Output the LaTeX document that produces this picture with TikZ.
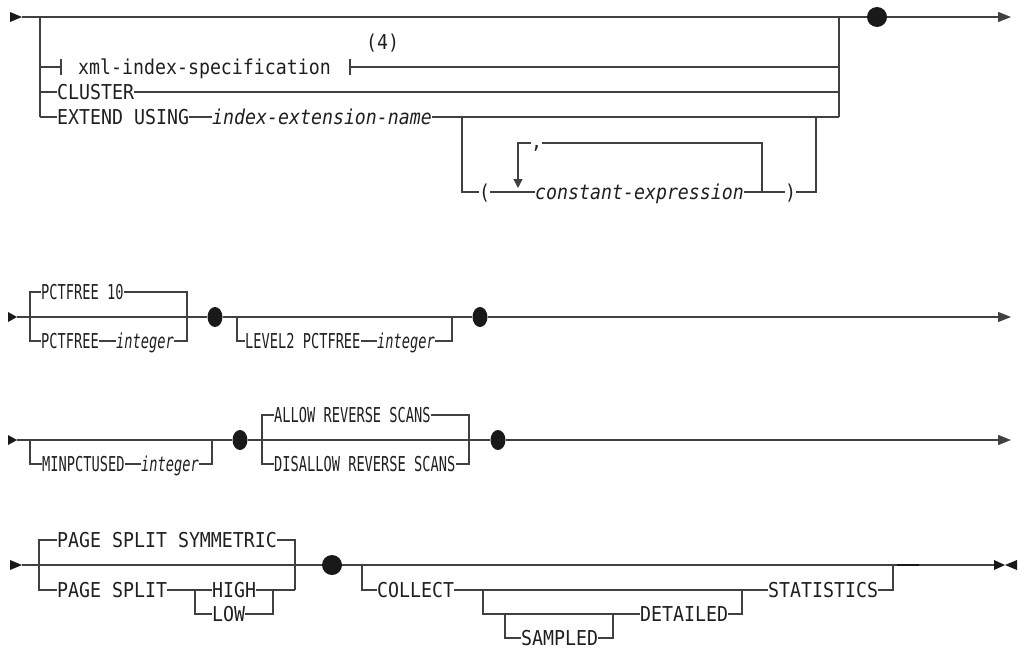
\documentclass[tikz,border=0pt]{standalone}
\usepackage{fontspec}
\usetikzlibrary{arrows.meta,shapes.geometric}
\newfontfamily\dmono[FakeStretch=0.89]{DejaVu Sans Mono}
\newfontfamily\dmonoc[FakeStretch=0.667]{DejaVu Sans Mono}
\newcommand\kwfont{\dmono\fontsize{20.5pt}{21pt}\selectfont}
\newcommand\kwcfont{\dmonoc\fontsize{20.5pt}{21pt}\selectfont}
\definecolor{lc}{gray}{0.25}
\definecolor{tc}{gray}{0.12}
\definecolor{dc}{gray}{0.1}
\tikzset{
  ln/.style={draw=lc,line width=1.3pt,line join=miter},
  kw/.style={font=\kwfont,text=tc,inner sep=0pt,anchor=west,text height=15pt,text depth=0pt},
  kwi/.style={kw,font=\kwfont\itshape},
  kwc/.style={kw,font=\kwcfont},
  kwci/.style={kw,font=\kwcfont\itshape},
  dot/.style={circle,fill=dc,inner sep=0pt,minimum size=20pt},
  dotc/.style={ellipse,fill=dc,inner sep=0pt,minimum width=15pt,minimum height=20pt},
  endarrow/.style={ln,-{Triangle[length=13pt,width=10pt]}},
  looparrow/.style={ln,-{Triangle[length=9pt,width=9pt]}},
  headfill/.style={fill=dc}
}
\begin{document}
\begin{tikzpicture}[x=1pt,y=-1pt]
\useasboundingbox (0,0) rectangle (1020,648);
% ---------------- Row 1 ----------------
\fill[headfill] (10,12) -- (22,17) -- (10,22) -- cycle;
\coordinate (r1s) at (22,17);
\coordinate (a0) at (40,17);
\coordinate (a1) at (40,67);
\coordinate (a2) at (40,92);
\coordinate (a3) at (40,117);
\coordinate (b0) at (839,17);
\coordinate (b1) at (839,67);
\coordinate (b2) at (839,92);
\coordinate (b3) at (839,117);
\node[dot] (d1) at (877,17) {};
\coordinate (r1e) at (1011,17);
\draw[ln] (r1s) -- (d1.west);
\draw[endarrow] (d1.east) -- (r1e);
\draw[ln] (a0) -- (a3);
\draw[ln] (b0) -- (b3);
% xml-index-specification
\coordinate (tl) at (61,67);
\coordinate (tr) at (350,67);
\node[kw] (xml) at (78,67) {xml-index-specification};
\node[kw] (n4) at (366,42) {(4)};
\draw[ln] (a1) -- (tl);
\draw[ln] ([yshift=-8pt]tl) -- ([yshift=8pt]tl);
\draw[ln] ([yshift=-8pt]tr) -- ([yshift=8pt]tr);
\draw[ln] (tr) -- (b1);
% CLUSTER
\node[kw] (clu) at (57,92) {CLUSTER};
\draw[ln] (a2) -- (clu.west);
\draw[ln] (clu.east) -- (b2);
% EXTEND USING
\node[kw] (ext) at (57,117) {EXTEND USING};
\node[kwi] (ien) at (212,117) {index-extension-name};
\draw[ln] (a3) -- (ext.west);
\draw[ln] (ext.east) -- (ien.west);
\draw[ln] (ien.east) -- (b3);
% ( constant-expression )
\coordinate (c1) at (462,117);
\coordinate (c2) at (462,192);
\coordinate (c3) at (816,192);
\coordinate (c4) at (816,117);
\node[kw] (lp) at (479,192) {(};
\node[kwi] (ce) at (535,192) {constant-expression};
\node[kw] (rp) at (785,192) {)};
\draw[ln] (c1) -- (c2) -- (lp.west);
\draw[ln] (lp.east) -- (ce.west);
\draw[ln] (ce.east) -- (rp.west);
\draw[ln] (rp.east) -- (c3) -- (c4);
\coordinate (lpL) at (518,192);
\coordinate (lpTL) at (518,143);
\coordinate (lpTR) at (762,143);
\coordinate (lpR) at (762,192);
\node[kw] (comma) at (531,141) {,};
\draw[ln] (lpR) -- (lpTR) -- ([yshift=-2pt]comma.east);
\draw[looparrow,shorten >=4pt] ([yshift=-2pt]comma.west) -- (lpTL) -- (lpL);
% ---------------- Row 2 ----------------
\fill[headfill] (8,312) -- (17,317) -- (8,322) -- cycle;
\coordinate (r2s) at (17,317);
\coordinate (e1) at (30,292);
\coordinate (e2) at (30,341);
\coordinate (f1) at (187,292);
\coordinate (f2) at (187,341);
\node[kwc] (pf10) at (41,292) {PCTFREE 10};
\node[kwc] (pf) at (41,341) {PCTFREE};
\node[kwci] (int1) at (116,341) {integer};
\draw[ln] (pf10.west) -- (e1) -- (e2) -- (pf.west);
\draw[ln] (pf10.east) -- (f1) -- (f2) -- (int1.east);
\draw[ln] (pf.east) -- (int1.west);
\node[dotc] (d2) at (215,317) {};
\coordinate (g0) at (237,317);
\coordinate (g1) at (237,341);
\node[kwc] (lv) at (245,341) {LEVEL2 PCTFREE};
\node[kwci] (int2) at (377,341) {integer};
\coordinate (h1) at (452,341);
\coordinate (h0) at (452,317);
\draw[ln] (g0) -- (g1) -- (lv.west);
\draw[ln] (lv.east) -- (int2.west);
\draw[ln] (int2.east) -- (h1) -- (h0);
\node[dotc] (d3) at (480,317) {};
\coordinate (r2e) at (1011,317);
\draw[ln] (r2s) -- (d2.west);
\draw[ln] (d2.east) -- (d3.west);
\draw[endarrow] (d3.east) -- (r2e);
% ---------------- Row 3 ----------------
\fill[headfill] (8,435) -- (17,440) -- (8,445) -- cycle;
\coordinate (r3s) at (17,440);
\coordinate (m0) at (30,440);
\coordinate (m1) at (30,464);
\node[kwc] (mpu) at (42,464) {MINPCTUSED};
\node[kwci] (int3) at (141,464) {integer};
\coordinate (n1) at (212,464);
\coordinate (n0) at (212,440);
\draw[ln] (m0) -- (m1) -- (mpu.west);
\draw[ln] (mpu.east) -- (int3.west);
\draw[ln] (int3.east) -- (n1) -- (n0);
\node[dotc] (d4) at (240,440) {};
\coordinate (p1) at (262,415);
\coordinate (p2) at (262,464);
\node[kwc] (ars) at (274,415) {ALLOW REVERSE SCANS};
\node[kwc] (drs) at (274,464) {DISALLOW REVERSE SCANS};
\coordinate (q1) at (469,415);
\coordinate (q2) at (469,464);
\draw[ln] (ars.west) -- (p1) -- (p2) -- (drs.west);
\draw[ln] (ars.east) -- (q1) -- (q2) -- (drs.east);
\node[dotc] (d5) at (498,440) {};
\coordinate (r3e) at (1011,440);
\draw[ln] (r3s) -- (d4.west);
\draw[ln] (d4.east) -- (d5.west);
\draw[endarrow] (d5.east) -- (r3e);
% ---------------- Row 4 ----------------
\fill[headfill] (10,560) -- (22,565) -- (10,570) -- cycle;
\coordinate (r4s) at (22,565);
\coordinate (s1) at (39,540);
\coordinate (s2) at (39,590);
\node[kw] (pss) at (57,540) {PAGE SPLIT SYMMETRIC};
\node[kw] (ps) at (57,590) {PAGE SPLIT};
\coordinate (t1) at (295,540);
\coordinate (t2) at (295,590);
\draw[ln] (pss.west) -- (s1) -- (s2) -- (ps.west);
\draw[ln] (pss.east) -- (t1) -- (t2);
\coordinate (u0) at (195,590);
\coordinate (u1) at (195,614);
\node[kw] (hi) at (212,590) {HIGH};
\node[kw] (lo) at (212,614) {LOW};
\coordinate (v0) at (273,590);
\coordinate (v1) at (273,614);
\draw[ln] (ps.east) -- (u0) -- (hi.west);
\draw[ln] (u0) -- (u1) -- (lo.west);
\draw[ln] (hi.east) -- (v0) -- (t2);
\draw[ln] (lo.east) -- (v1) -- (v0);
\node[dot] (d6) at (332,565) {};
\coordinate (w0) at (362,565);
\coordinate (w1) at (362,590);
\node[kw] (col) at (377,590) {COLLECT};
\draw[ln] (w0) -- (w1) -- (col.west);
\coordinate (x0) at (483,590);
\coordinate (x1) at (483,614);
\coordinate (y0) at (505,614);
\coordinate (y1) at (505,638);
\node[kw] (smp) at (521,638) {SAMPLED};
\coordinate (z1) at (613,638);
\coordinate (z0) at (613,614);
\node[kw] (det) at (640,614) {DETAILED};
\coordinate (k1) at (742,614);
\coordinate (k0) at (742,590);
\node[kw] (sta) at (768,590) {STATISTICS};
\coordinate (j1) at (893,590);
\coordinate (j0) at (893,565);
\draw[ln] (col.east) -- (sta.west);
\draw[ln] (x0) -- (x1) -- (det.west);
\draw[ln] (y0) -- (y1) -- (smp.west);
\draw[ln] (smp.east) -- (z1) -- (z0);
\draw[ln] (det.east) -- (k1) -- (k0);
\draw[ln] (sta.east) -- (j1) -- (j0);
\coordinate (r4e) at (994,565);
\draw[ln] (r4s) -- (d6.west);
\draw[ln] (d6.east) -- (r4e);
\draw[draw=dc,line width=2.4pt] (897,565) -- (919,565);
\fill[headfill] (994,560) -- (1005,565) -- (994,570) -- cycle;
\fill[headfill] (1017,560) -- (1005,565) -- (1017,570) -- cycle;
\end{tikzpicture}
\end{document}
